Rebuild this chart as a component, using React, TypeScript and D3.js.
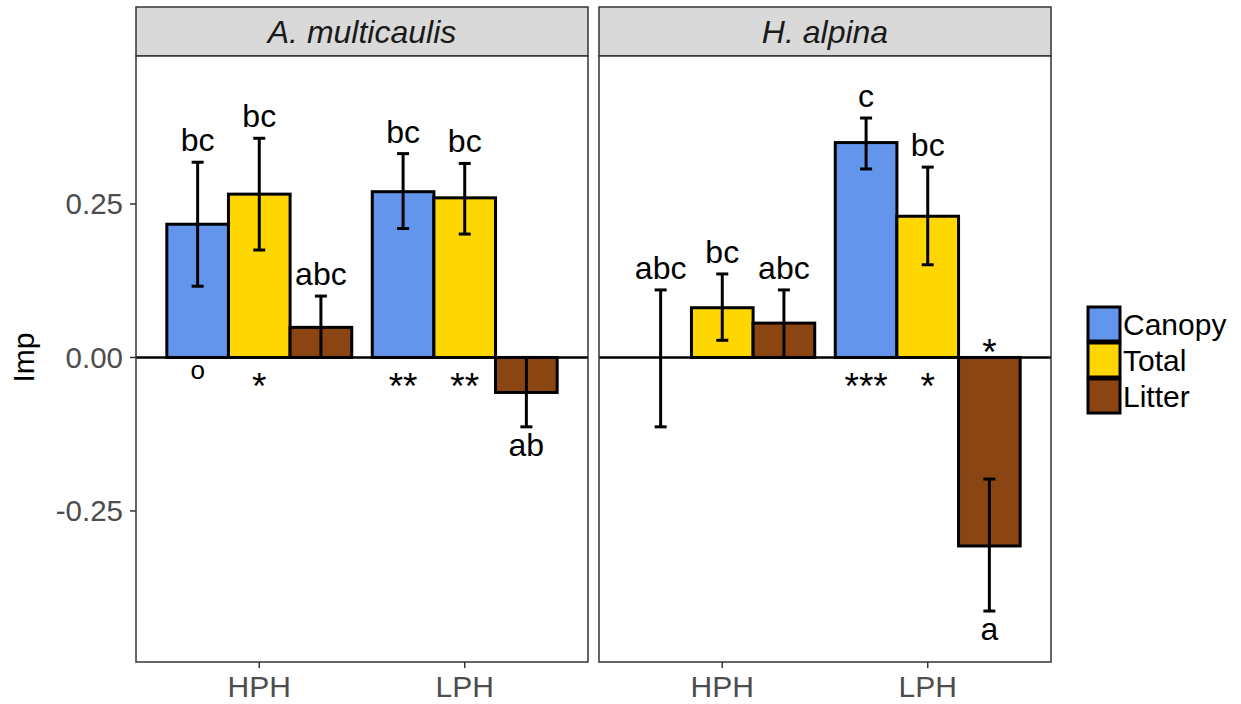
import React from 'react';
import * as d3 from 'd3';

const species = ['A. multicaulis', 'H. alpina'];
const sites = ['HPH', 'LPH'];
const types = ['Canopy', 'Total', 'Litter'];

// order: HPH Canopy, HPH Total, HPH Litter, LPH Canopy, LPH Total, LPH Litter
const multicaulisImp = [0.217, 0.266, 0.049, 0.270, 0.260, -0.057];
const multicaulisLower = [0.116, 0.175, 0.0, 0.210, 0.201, -0.113];
const multicaulisUpper = [0.318, 0.357, 0.100, 0.332, 0.316, 0.0];
const multicaulisLetters = ['bc', 'bc', 'abc', 'bc', 'bc', 'ab'];
const multicaulisSig = ['o', '*', '', '**', '**', ''];

const alpinaImp = [0.0, 0.081, 0.056, 0.350, 0.230, -0.307];
const alpinaLower = [-0.113, 0.028, 0.0, 0.307, 0.151, -0.413];
const alpinaUpper = [0.110, 0.136, 0.110, 0.390, 0.310, -0.198];
const alpinaLetters = ['abc', 'bc', 'abc', 'c', 'bc', 'a'];
const alpinaSig = ['', '', '', '***', '*', '*'];

const yTicks = [-0.25, 0, 0.25];

const colors: Record<string, string> = { Canopy: '#6495ED', Total: '#FFD700', Litter: '#8B4513' };

const build = (imp: number[], lo: number[], hi: number[], letters: string[], sig: string[]) =>
  imp.map((v, i) => ({
    site: sites[Math.floor(i / 3)],
    type: types[i % 3],
    imp: v,
    lower: lo[i],
    upper: hi[i],
    letter: letters[i],
    sig: sig[i],
  }));

const panelData = [
  build(multicaulisImp, multicaulisLower, multicaulisUpper, multicaulisLetters, multicaulisSig),
  build(alpinaImp, alpinaLower, alpinaUpper, alpinaLetters, alpinaSig),
];

const font = '"Liberation Sans", Arial, sans-serif';

export default function App() {
  const width = 1241;
  const height = 704;
  const panelLeft = [136, 599];
  const panelW = 452;
  const top = 56;
  const bottom = 662;
  const stripTop = 7;

  const y = d3.scaleLinear().domain([-0.496, 0.491]).range([bottom, top]);
  const fmt = (v: number) => d3.format('.2f')(v).replace('\u2212', '-');

  return (
    <svg width={width} height={height} style={{ position: 'absolute', left: 0, top: 0, background: '#fff' }}>
      {/* y axis title */}
      <text
        transform={`translate(34,${y(0)}) rotate(-90)`}
        textAnchor="middle"
        fontFamily={font}
        fontSize={30}
        fill="#000"
      >
        Imp
      </text>

      {/* y axis ticks */}
      {yTicks.map(t => (
        <g key={t}>
          <line x1={130} x2={136} y1={y(t)} y2={y(t)} stroke="#333" strokeWidth={1.5} />
          <text x={123} y={y(t)} dy="0.35em" textAnchor="end" fontFamily={font} fontSize={29.5} fill="#4d4d4d">
            {fmt(t)}
          </text>
        </g>
      ))}

      {panelData.map((data, p) => {
        const x0 = panelLeft[p];
        const x = d3.scaleBand().domain(sites).range([x0, x0 + panelW]).paddingInner(0.1).paddingOuter(0.15);
        const xInner = d3.scaleBand().domain(types).range([0, x.bandwidth()]);
        const cx = (d: any) => (x(d.site) || 0) + (xInner(d.type) || 0) + xInner.bandwidth() / 2;
        const capW = 12;
        return (
          <g key={p}>
            {/* strip */}
            <rect x={x0} y={stripTop} width={panelW} height={top - stripTop} fill="#d9d9d9" stroke="#333" strokeWidth={1.5} />
            <text
              x={x0 + panelW / 2}
              y={(stripTop + top) / 2}
              dy="0.36em"
              textAnchor="middle"
              fontFamily={font}
              fontStyle="italic"
              fontSize={32}
              fill="#1a1a1a"
            >
              {species[p]}
            </text>
            <rect x={x0} y={top} width={panelW} height={bottom - top} fill="#fff" />

            {/* bars */}
            {data.map((d, i) =>
              d.imp === 0 ? null : (
                <rect
                  key={i}
                  x={(x(d.site) || 0) + (xInner(d.type) || 0)}
                  width={xInner.bandwidth()}
                  y={y(Math.max(0, d.imp))}
                  height={Math.abs(y(d.imp) - y(0))}
                  fill={colors[d.type]}
                  stroke="#000"
                  strokeWidth={3}
                />
              )
            )}

            {/* error bars */}
            {data.map((d, i) => (
              <g key={i} stroke="#000" strokeWidth={3}>
                <line x1={cx(d)} x2={cx(d)} y1={y(d.upper)} y2={y(d.lower)} />
                <line x1={cx(d) - capW / 2} x2={cx(d) + capW / 2} y1={y(d.upper)} y2={y(d.upper)} />
                <line x1={cx(d) - capW / 2} x2={cx(d) + capW / 2} y1={y(d.lower)} y2={y(d.lower)} />
              </g>
            ))}

            {/* zero line */}
            <line x1={x0} x2={x0 + panelW} y1={y(0)} y2={y(0)} stroke="#000" strokeWidth={2.5} />

            {/* letters */}
            {data.map((d, i) => (
              <text
                key={i}
                x={cx(d)}
                y={d.imp >= 0 ? y(d.upper) - 11 : y(d.lower) + 29}
                textAnchor="middle"
                fontFamily={font}
                fontSize={32}
                fill="#000"
              >
                {d.letter}
              </text>
            ))}

            {/* significance */}
            {data.map((d, i) =>
              d.sig === '' ? null : (
                <text
                  key={i}
                  x={cx(d)}
                  y={d.sig === 'o' ? y(0) + 22 : d.imp >= 0 ? y(0) + 42 : y(0) + 8}
                  textAnchor="middle"
                  fontFamily={font}
                  fontSize={d.sig === 'o' ? 26 : 37}
                  fill="#000"
                >
                  {d.sig}
                </text>
              )
            )}

            {/* panel border */}
            <rect x={x0} y={top} width={panelW} height={bottom - top} fill="none" stroke="#333" strokeWidth={1.5} />

            {/* x axis */}
            {sites.map(s => (
              <g key={s}>
                <line
                  x1={(x(s) || 0) + x.bandwidth() / 2}
                  x2={(x(s) || 0) + x.bandwidth() / 2}
                  y1={bottom}
                  y2={bottom + 6}
                  stroke="#333"
                  strokeWidth={1.5}
                />
                <text
                  x={(x(s) || 0) + x.bandwidth() / 2}
                  y={697}
                  textAnchor="middle"
                  fontFamily={font}
                  fontSize={30}
                  fill="#4d4d4d"
                >
                  {s}
                </text>
              </g>
            ))}
          </g>
        );
      })}

      {/* legend */}
      {types.map((t, i) => (
        <g key={t}>
          <rect x={1088} y={307 + i * 36} width={32} height={34} fill={colors[t]} stroke="#000" strokeWidth={3} />
          <text x={1123} y={307 + i * 36 + 17} dy="0.36em" fontFamily={font} fontSize={30} fill="#000">
            {t}
          </text>
        </g>
      ))}
    </svg>
  );
}
